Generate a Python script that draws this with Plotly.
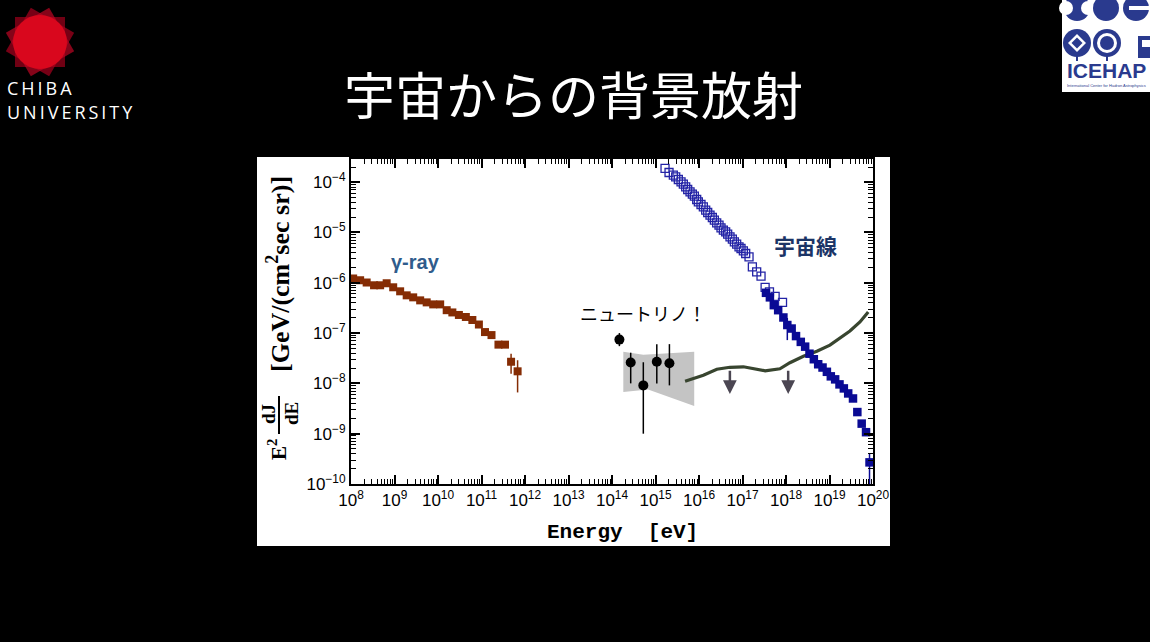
import numpy as np
import plotly.graph_objects as go

# ---------------- data (log10 values) ----------------
gamma_logE = [8.05, 8.21, 8.36, 8.53, 8.67, 8.82, 8.97, 9.13, 9.28, 9.43, 9.59, 9.74, 9.89,
              10.05, 10.20, 10.33, 10.48, 10.64, 10.79, 10.94, 11.08, 11.23, 11.39, 11.54,
              11.68, 11.83]
gamma_logF = [-5.915, -5.95, -5.995, -6.05, -6.05, -6.01, -6.09, -6.17, -6.25, -6.29, -6.35,
              -6.39, -6.43, -6.43, -6.545, -6.59, -6.64, -6.68, -6.74, -6.83, -6.98, -7.04,
              -7.23, -7.23, -7.57, -7.76]
gamma_err_up = [0.03, 0.04, 0.05, 0.06, 0.05, 0.03, 0.03, 0.02, 0.02, 0.02, 0.02, 0.02, 0.02,
                0.02, 0.02, 0.02, 0.02, 0.02, 0.02, 0.02, 0.02, 0.02, 0.04, 0.04, 0.16, 0.22]
gamma_err_dn = [0.03, 0.04, 0.05, 0.06, 0.05, 0.03, 0.03, 0.02, 0.02, 0.02, 0.02, 0.02, 0.02,
                0.02, 0.02, 0.02, 0.02, 0.02, 0.02, 0.02, 0.02, 0.02, 0.04, 0.04, 0.24, 0.42]

nu_logE = [14.17, 14.43, 14.72, 15.03, 15.32]
nu_logF = [-7.13, -7.585, -8.04, -7.57, -7.60]
nu_hi = [-7.00, -7.39, -7.58, -7.22, -7.22]
nu_lo = [-7.26, -8.00, -9.00, -8.00, -8.04]

band_logE = [14.26, 14.72, 15.89, 15.89, 14.83, 14.26]
band_logF = [-7.37, -7.43, -7.37, -8.45, -8.12, -8.17]

limit_logE = [15.68, 16.10, 16.41, 16.71, 17.02, 17.25, 17.52, 17.86, 18.09, 18.40, 18.71,
              19.01, 19.47, 19.70, 19.89]
limit_logF = [-7.956, -7.84, -7.72, -7.68, -7.67, -7.70, -7.75, -7.71, -7.59, -7.46, -7.36,
              -7.24, -6.96, -6.78, -6.58]

ul_logE = [16.71, 18.05]
ul_top = [-7.72, -7.72]
ul_bot = [-8.21, -8.21]

cr_open_logE = [15.219, 15.311, 15.410, 15.464, 15.525, 15.587, 15.640, 15.694, 15.740, 15.794,
                15.847, 15.893, 15.947, 15.985, 16.046, 16.100, 16.154, 16.200, 16.253, 16.307,
                16.353, 16.407, 16.460, 16.506, 16.560, 16.613, 16.659, 16.713, 16.767, 16.813,
                16.866, 16.920, 16.966, 17.020, 17.073, 17.150, 17.227, 17.326, 17.426, 17.52,
                17.62, 17.75, 17.92]
cr_open_logF = [-3.728, -3.808, -3.861, -3.894, -3.947, -3.993, -4.040, -4.093, -4.146, -4.192,
                -4.239, -4.278, -4.345, -4.391, -4.444, -4.490, -4.557, -4.603, -4.656, -4.703,
                -4.755, -4.808, -4.855, -4.908, -4.954, -4.987, -5.034, -5.087, -5.133, -5.186,
                -5.233, -5.286, -5.319, -5.365, -5.418, -5.485, -5.683, -5.783, -5.869, -6.09,
                -6.18, -6.27, -6.39]

cr_fill_logE = [17.54, 17.63, 17.72, 17.82, 17.94, 18.03, 18.13, 18.23, 18.34, 18.44, 18.54,
                18.64, 18.74, 18.84, 18.94, 19.03, 19.13, 19.23, 19.33, 19.43, 19.54, 19.64,
                19.74, 19.84, 19.92]
cr_fill_logF = [-6.20, -6.29, -6.445, -6.545, -6.69, -6.84, -6.91, -7.06, -7.175, -7.27, -7.41,
                -7.52, -7.62, -7.685, -7.77, -7.86, -7.92, -8.02, -8.10, -8.20, -8.30, -8.57,
                -8.80, -8.97, -9.57]
cr_fill_err_up = [0] * 5 + [0.14] + [0] * 18 + [0.18]
cr_fill_err_dn = [0] * 5 + [0.30] + [0] * 18 + [0.95]

x_tick_exp = list(range(8, 21))
y_tick_exp = list(range(-10, -3))

# ---------------- helpers ----------------
def lin(a):
    return 10.0 ** np.array(a, dtype=float)

def errs(logv, up, dn):
    v = lin(logv)
    return lin(np.array(logv) + np.array(up)) - v, v - lin(np.array(logv) - np.array(dn))

W, H = 1150, 642
L, R, T, B = 351, 873, 159, 484

def px(x):
    return (x - L) / (R - L)

def py(y):
    return (B - y) / (B - T)

fig = go.Figure()

# gray band
fig.add_trace(go.Scatter(x=lin(band_logE), y=lin(band_logF), fill="toself", mode="lines",
                         line=dict(width=0, color="#c4c4c4"), fillcolor="#c4c4c4",
                         hoverinfo="skip", showlegend=False))

# limit line
fig.add_trace(go.Scatter(x=lin(limit_logE), y=lin(limit_logF), mode="lines",
                         line=dict(color="#38452f", width=3.2), showlegend=False))

# gamma rays
gu, gd = errs(gamma_logF, gamma_err_up, gamma_err_dn)
fig.add_trace(go.Scatter(x=lin(gamma_logE), y=lin(gamma_logF), mode="markers",
                         marker=dict(symbol="square", size=8, color="#852c04"),
                         error_y=dict(type="data", array=gu, arrayminus=gd, width=0,
                                      color="#852c04", thickness=1.5),
                         showlegend=False))

# neutrinos
nv = lin(nu_logF)
fig.add_trace(go.Scatter(x=lin(nu_logE), y=nv, mode="markers",
                         marker=dict(symbol="circle", size=10, color="black"),
                         error_y=dict(type="data", array=lin(nu_hi) - nv,
                                      arrayminus=nv - lin(nu_lo), width=0,
                                      color="black", thickness=1.5),
                         showlegend=False))

# cosmic rays open
fig.add_trace(go.Scatter(x=lin(cr_open_logE), y=lin(cr_open_logF), mode="markers",
                         marker=dict(symbol="square-open", size=8, color="#2424a6",
                                     line=dict(width=1.3, color="#2424a6")),
                         showlegend=False))

# cosmic rays filled
cu, cd = errs(cr_fill_logF, cr_fill_err_up, cr_fill_err_dn)
fig.add_trace(go.Scatter(x=lin(cr_fill_logE), y=lin(cr_fill_logF), mode="markers",
                         marker=dict(symbol="square", size=8.5, color="#0a0a94"),
                         error_y=dict(type="data", array=cu, arrayminus=cd, width=0,
                                      color="#0a0a94", thickness=1.5),
                         showlegend=False))

# upper limit arrows
for e, t, b in zip(ul_logE, ul_top, ul_bot):
    fig.add_annotation(x=e, y=b, ax=e, ay=t, xref="x", yref="y", axref="x", ayref="y",
                       text="", showarrow=True, arrowhead=2, arrowsize=1.1,
                       arrowwidth=2.5, arrowcolor="#4b4652")

# minor tick positions
x_minor = [m * 10.0 ** k for k in range(7, 21) for m in range(2, 10)]
y_minor = [m * 10.0 ** k for k in range(-11, -3) for m in range(2, 10)]

axis_common = dict(type="log", showgrid=False, zeroline=False, showline=True,
                   linecolor="black", linewidth=2, mirror="ticks", ticks="inside",
                   ticklen=9, tickwidth=1.5, tickcolor="black",
                   tickfont=dict(family="Liberation Sans", size=17, color="black"))

fig.update_xaxes(**axis_common, range=[8, 20], tickmode="array",
                 tickvals=[10.0 ** k for k in x_tick_exp],
                 ticktext=[f"10<sup>{k}</sup>" for k in x_tick_exp],
                 minor=dict(ticks="inside", ticklen=5, tickwidth=1, tickcolor="black",
                            tickmode="array", tickvals=x_minor, showgrid=False))
fig.update_yaxes(**axis_common, range=[-10, -3.54], tickmode="array",
                 tickvals=[10.0 ** k for k in y_tick_exp],
                 ticktext=[f"10<sup>\u2212{abs(k)}</sup>" for k in y_tick_exp],
                 minor=dict(ticks="inside", ticklen=5, tickwidth=1, tickcolor="black",
                            tickmode="array", tickvals=y_minor, showgrid=False))

shapes = []
# white panel
shapes.append(dict(type="rect", xref="paper", yref="paper", x0=px(257), x1=px(890),
                   y0=py(546), y1=py(157), fillcolor="white", line=dict(width=0),
                   layer="below"))
# fraction bar of y label
shapes.append(dict(type="line", xref="paper", yref="paper", x0=px(279), x1=px(279),
                   y0=py(434), y1=py(396), line=dict(color="black", width=2)))

# Chiba logo
cx, cy = 40, 42
def rot_square(half, ang):
    pts = []
    for k in range(4):
        a = np.deg2rad(ang + 45 + 90 * k)
        pts.append((cx + half * np.sqrt(2) * np.cos(a), cy + half * np.sqrt(2) * np.sin(a)))
    return "M " + " L ".join(f"{px(x):.5f},{py(y):.5f}" for x, y in pts) + " Z"

for ang, col in [(0, "rgba(150,0,25,0.75)"), (30, "rgba(170,0,30,0.7)"),
                 (60, "rgba(190,5,35,0.7)")]:
    shapes.append(dict(type="path", xref="paper", yref="paper", path=rot_square(25, ang),
                       fillcolor=col, line=dict(width=0)))
shapes.append(dict(type="circle", xref="paper", yref="paper", x0=px(cx - 27), x1=px(cx + 27),
                   y0=py(cy + 27), y1=py(cy - 27), fillcolor="#d9071d", line=dict(width=0)))

# ICEHAP logo
blue = "#2a3a8e"
shapes.append(dict(type="rect", xref="paper", yref="paper", x0=px(1062), x1=px(1152),
                   y0=py(92), y1=py(-2), fillcolor="white", line=dict(width=0)))

def circ(x, y, r, col):
    return dict(type="circle", xref="paper", yref="paper", x0=px(x - r), x1=px(x + r),
                y0=py(y + r), y1=py(y - r), fillcolor=col, line=dict(width=0))

def rect(x0, y0, x1, y1, col):
    return dict(type="rect", xref="paper", yref="paper", x0=px(x0), x1=px(x1),
                y0=py(y1), y1=py(y0), fillcolor=col, line=dict(width=0))

def diamond(x, y, r, col):
    p = f"M {px(x - r):.5f},{py(y):.5f} L {px(x):.5f},{py(y - r):.5f} L {px(x + r):.5f},{py(y):.5f} L {px(x):.5f},{py(y + r):.5f} Z"
    return dict(type="path", xref="paper", yref="paper", path=p, fillcolor=col, line=dict(width=0))

shapes += [circ(1077, 8, 13, blue), circ(1066, 8, 7, "white"), circ(1088, 8, 7, "white"),
           circ(1106, 8, 13, blue),
           circ(1136, 8, 13, blue), rect(1129, 6, 1150, 10, "white"),
           circ(1077, 43, 14, blue), diamond(1077, 43, 9, "white"), diamond(1077, 43, 5.5, blue),
           circ(1107, 43, 14, blue), circ(1107, 43, 10, "white"), circ(1107, 43, 7, blue),
           rect(1076, 55, 1078, 61, blue), rect(1106, 55, 1108, 61, blue),
           rect(1138, 36, 1150, 58, blue), rect(1142, 40, 1150, 47, "white")]

fig.update_layout(shapes=shapes)

ann = []
def A(text, x, y, size, color="black", family="Liberation Sans", angle=0, xanchor="center",
      align="center", yanchor="middle"):
    ann.append(dict(text=text, x=px(x), y=py(y), xref="paper", yref="paper", showarrow=False,
                    textangle=angle, xanchor=xanchor, yanchor=yanchor, align=align,
                    borderpad=0,
                    font=dict(size=size, color=color, family=family)))

ts = "\u2009"
A("宇宙からの背景放射", 573, 93, 51, "white", "Noto Sans CJK JP")
A(ts.join("CHIBA"), 6, 101, 18, "white", "Open Sans", xanchor="left", yanchor="bottom")
A(ts.join("UNIVERSITY"), 6, 99, 18, "white", "Open Sans", xanchor="left", yanchor="top")
A("<b>ICEHAP</b>", 1106, 71, 21, blue, "Liberation Sans")
A("International Center for Hadron Astrophysics", 1106, 86, 4, blue, "Liberation Sans")

A("<b>Energy  [eV]</b>", 622, 532, 21, "black", "Liberation Mono")
A("<b>[GeV/(cm<sup>2</sup>sec sr)]</b>", 278, 274, 26, "black", "Liberation Serif", angle=-90)
A("<b>E<sup>2</sup></b>", 277, 450, 21, "black", "Liberation Serif", angle=-90)
A("<b>dJ</b>", 268, 414, 19, "black", "Liberation Serif", angle=-90)
A("<b>dE</b>", 291, 414, 19, "black", "Liberation Serif", angle=-90)

A("<b>γ-ray</b>", 415, 262, 20, "#2f5c8c", "Liberation Sans")
A("<b>宇宙線</b>", 805, 245, 21, "#1b3466", "Noto Sans CJK JP")
A("ニュートリノ！", 643, 313, 18, "black", "Noto Sans CJK JP")

fig.update_layout(annotations=list(fig.layout.annotations) + ann)

fig.update_layout(width=W, height=H, autosize=False,
                  margin=dict(l=L, r=W - R, t=T, b=H - B, pad=0),
                  paper_bgcolor="black", plot_bgcolor="white", showlegend=False)

fig.write_html("out.html", config={"displayModeBar": False},
               post_script="document.body.style.margin='0';"
                           "document.body.style.background='black';"
                           "document.body.style.overflow='hidden';")
